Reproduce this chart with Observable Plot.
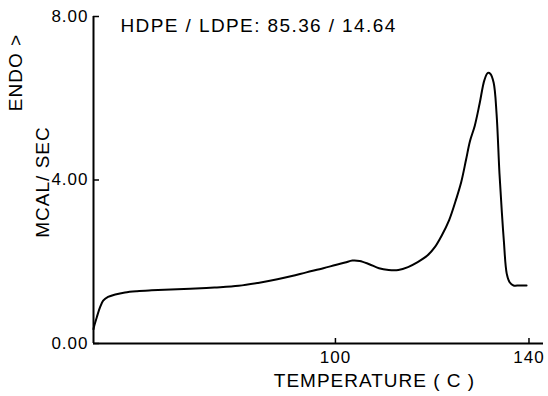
<!DOCTYPE html>
<html><head><meta charset="utf-8">
<script src="https://cdn.jsdelivr.net/npm/d3@7"></script>
<script src="https://cdn.jsdelivr.net/npm/@observablehq/plot@0.6"></script>
<style>
html,body{margin:0;padding:0;background:#fff;}
#chart text{letter-spacing:1px;}
</style></head><body><div id="chart"></div>
<script>
const temperature = [50.0, 50.2, 50.7, 51.4, 52.0, 53.0, 54.5, 56.5, 59, 62, 66, 70, 75, 80, 84, 88, 91, 94, 97.5, 100, 102, 103.5, 105, 107, 109, 111, 113, 115, 117, 119, 120.5, 122, 123.5, 125, 126, 127, 127.8, 128.8, 129.8, 130.8, 131.5, 132.0, 132.7, 133.3, 133.9, 134.4, 134.8, 135.4, 136.0, 136.8, 138, 139.5];
const heatFlow = [0.35, 0.45, 0.65, 0.90, 1.05, 1.14, 1.20, 1.25, 1.28, 1.30, 1.32, 1.34, 1.37, 1.41, 1.48, 1.57, 1.65, 1.74, 1.84, 1.92, 1.98, 2.03, 2.02, 1.94, 1.84, 1.80, 1.80, 1.87, 1.99, 2.15, 2.35, 2.65, 3.02, 3.55, 3.95, 4.5, 4.95, 5.33, 5.87, 6.45, 6.62, 6.60, 6.38, 5.62, 4.16, 3.2, 2.52, 1.71, 1.50, 1.42, 1.42, 1.42];
const xTicks = [100, 140];
const yTicks = [0, 4, 8];
const xDomain = [50, 143];
const yDomain = [0, 8];
const annotation = ["HDPE / LDPE: 85.36 / 14.64"];
const xTitle = ["TEMPERATURE ( C )"];
const yTitle = ["MCAL/ SEC"];
const endoLabel = ["ENDO >"];

const data = temperature.map((t, i) => ({t, v: heatFlow[i]}));
const font = "'Liberation Sans', Arial, sans-serif";

const chart = Plot.plot({
  width: 548, height: 396,
  marginLeft: 93, marginRight: 5, marginTop: 16, marginBottom: 53,
  style: {fontFamily: font, fontSize: "17px", background: "#fff", color: "#000", overflow: "visible"},
  x: {domain: xDomain, ticks: xTicks},
  y: {domain: yDomain, ticks: yTicks},
  marks: [
    Plot.axisX(xTicks, {tickSize: -5, tickFormat: () => "", strokeWidth: 1.5, label: null}),
    Plot.axisX(xTicks, {tickSize: 0, tickPadding: 7, label: null, fontSize: 17}),
    Plot.axisY(yTicks, {tickSize: -6, tickFormat: () => "", strokeWidth: 1.5, label: null}),
    Plot.axisY(yTicks, {tickSize: 0, tickPadding: 5, label: null, fontSize: 17, tickFormat: d3.format(".2f")}),
    Plot.ruleX([xDomain[0]], {strokeWidth: 2}),
    Plot.ruleY([yDomain[0]], {strokeWidth: 2}),
    Plot.line(data, {x: "t", y: "v", curve: "catmull-rom", strokeWidth: 2}),
    Plot.text(annotation, {text: d => d, frameAnchor: "top-left", textAnchor: "start", lineAnchor: "middle", dx: 27, dy: 9, fontSize: 19}),
    Plot.text(xTitle, {text: d => d, frameAnchor: "bottom", textAnchor: "middle", lineAnchor: "middle", dx: 56, dy: 37, fontSize: 19}),
    Plot.text(yTitle, {text: d => d, frameAnchor: "left", rotate: -90, textAnchor: "middle", lineAnchor: "middle", dx: -51, dy: 2, fontSize: 19}),
    Plot.text(endoLabel, {text: d => d, frameAnchor: "top-left", rotate: -90, textAnchor: "middle", lineAnchor: "middle", dx: -78, dy: 56, fontSize: 19})
  ]
});
document.getElementById("chart").appendChild(chart);
d3.select(chart).selectAll("text").filter(function() { return this.textContent === annotation[0]; }).style("letter-spacing", "1.4px");
</script></body></html>
